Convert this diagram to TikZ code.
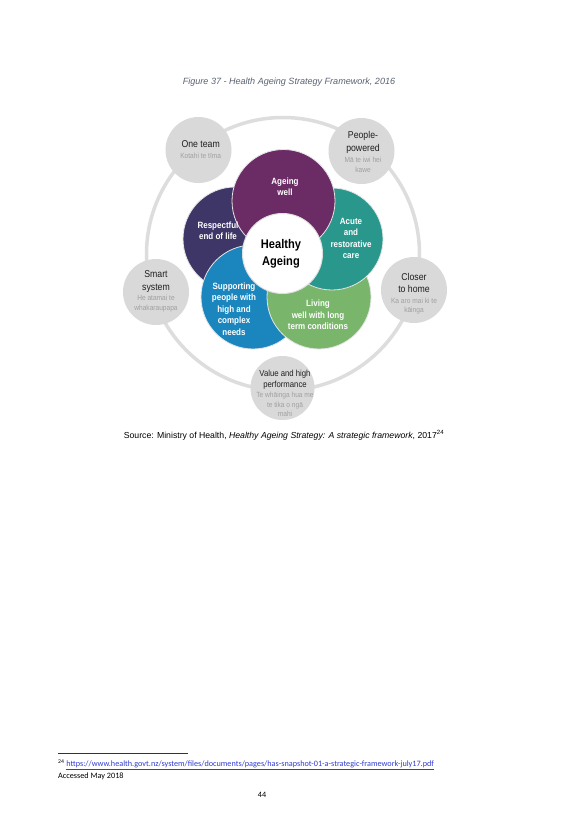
\documentclass[tikz,border=0pt]{standalone}
\usepackage{fontspec}
\setmainfont{Liberation Sans}
\newfontfamily\narrowsans[FakeStretch=0.88]{Liberation Sans}
\newfontfamily\calibri{Carlito}
\definecolor{navy}{HTML}{3D3666}
\definecolor{purp}{HTML}{6B2C66}
\definecolor{tealc}{HTML}{2A978D}
\definecolor{sblue}{HTML}{1B86BE}
\definecolor{sgreen}{HTML}{79B56B}
\definecolor{satgray}{HTML}{D9D9D9}
\definecolor{ringgray}{HTML}{DDDDDD}
\definecolor{subgray}{HTML}{A0A0A0}
\definecolor{capgray}{HTML}{5A6272}
\definecolor{linkblue}{HTML}{2F3CD0}
\begin{document}
\begin{tikzpicture}[x=1pt,y=-1pt,
  disc/.style={circle, inner sep=0pt, draw=white!80!gray, line width=0.8pt},
  bubble/.style={circle, fill=satgray, inner sep=0pt, minimum size=66pt},
  wtxt/.style={text=white, font=\narrowsans\bfseries\fontsize{9.1}{11.5}\selectfont, align=center, inner sep=0pt},
  ttl/.style={font=\narrowsans\fontsize{9.9}{12.8}\selectfont, align=center, text=black!88, inner sep=0pt},
  sub/.style={font=\narrowsans\fontsize{7.5}{9.8}\selectfont, align=center, text=subgray, inner sep=0pt},
  plain/.style={inner sep=0pt}]
\useasboundingbox[fill=white] (0,0) rectangle (577,823);

% caption
\node[plain, text=capgray, font=\itshape\fontsize{9.05}{11}\selectfont] (cap) at (289,82) {Figure 37 - Health Ageing Strategy Framework, 2016};

% outer ring
\node[circle, draw=ringgray, line width=3.5pt, minimum size=273pt, inner sep=0pt] (ring) at (283,254) {};

% satellite bubbles
\node[bubble] (b1) at (198.5,150) {};
\node[bubble] (b2) at (361.5,151) {};
\node[bubble] (b3) at (156,292) {};
\node[bubble] (b4) at (414,290) {};
\node[bubble, minimum size=64pt] (b5) at (282.5,388) {};

% main discs
\node[disc, fill=navy, minimum size=104pt] (resp) at (235,239) {};
\node[disc, fill=sblue, minimum size=104pt] (supp) at (253,297) {};
\node[disc, fill=sgreen, minimum size=104pt] (live) at (319,297) {};
\node[disc, fill=tealc, minimum size=102pt] (acute) at (332,239) {};
\node[disc, fill=purp, minimum size=103pt] (ageing) at (283.5,201) {};
\node[disc, fill=white, draw=black!12, line width=1pt, minimum size=80pt] (core) at (282.5,253.5) {};

% disc texts
\node[wtxt] (tageing) at (285,186.5) {Ageing\\well};
\node[wtxt] (tresp) at (218,230.5) {Respectful\\end of life};
\node[wtxt] (tacute) at (351,238.5) {Acute\\and\\restorative\\care};
\node[wtxt] (tsupp) at (234,309) {Supporting\\people with\\high and\\complex\\needs};
\node[wtxt] (tlive) at (318,315) {Living\\well with long\\term conditions};
\node[plain, align=center, font=\narrowsans\bfseries\fontsize{12.6}{17.5}\selectfont] (tcore) at (281,254) {Healthy\\Ageing};

% satellite texts
\node[ttl] (t1) at (200.7,144) {One team};
\node[sub] (s1) at (200.7,155.5) {Kotahi te tīma};
\node[ttl] (t2) at (363,142.5) {People-\\powered};
\node[sub] (s2) at (363,165) {Mā te iwi hei\\kawe};
\node[ttl] (t3) at (156,281.5) {Smart\\system};
\node[sub] (s3) at (156,303.5) {He atamai te\\whakaraupapa};
\node[ttl] (t4) at (414,283) {Closer\\to home};
\node[sub] (s4) at (414,306) {Ka aro mai ki te\\kāinga};
\node[ttl, font=\narrowsans\fontsize{8.8}{11}\selectfont] (t5) at (285,379.5) {Value and high\\performance};
\node[sub, font=\narrowsans\fontsize{7.5}{9.7}\selectfont] (s5) at (285,404.5) {Te whāinga hua me\\te tika o ngā\\mahi};

% source
\node[plain, font=\fontsize{8.7}{10}\selectfont] (src) at (284,435) {Source: Ministry of Health, \textit{Healthy Ageing Strategy: A strategic framework}, 2017\textsuperscript{24}};

% footnote
\coordinate (r1) at (58,753);
\coordinate (r2) at (188,753);
\draw[line width=0.6pt, black!80] (r1) -- (r2);
\node[plain, anchor=west, font=\calibri\fontsize{8.2}{10}\selectfont] (fn) at (58,765) {\textsuperscript{24} \textcolor{linkblue}{\underline{https://www.health.govt.nz/system/files/documents/pages/has-snapshot-01-a-strategic-framework-july17.pdf}}};
\node[plain, anchor=west, font=\calibri\fontsize{8.2}{10}\selectfont] (acc) at (58,776.5) {Accessed May 2018};
\node[plain, font=\calibri\fontsize{8.2}{10}\selectfont] (pg) at (262,795) {44};
\end{tikzpicture}
\end{document}
